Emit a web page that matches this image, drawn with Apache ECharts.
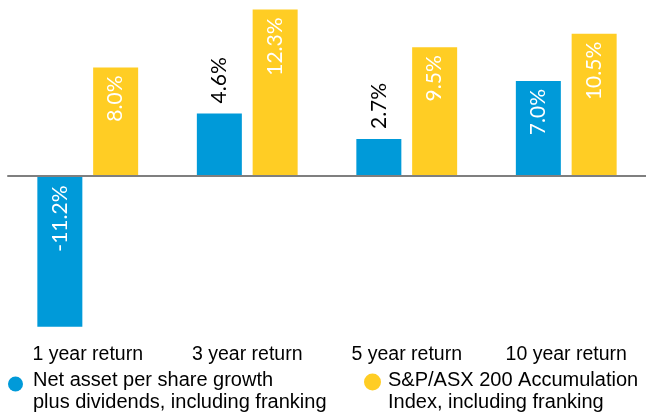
<!DOCTYPE html>
<html>
<head>
<meta charset="utf-8">
<script src="https://cdn.jsdelivr.net/npm/echarts@6/dist/echarts.min.js"></script>
<style>
html,body{margin:0;padding:0;background:#fff;}
#chart{width:646px;height:412px;}
</style>
</head>
<body>
<div id="chart"></div>
<script>
const categories = ['1 year return', '3 year return', '5 year return', '10 year return'];
const navGrowth = [-11.2, 4.6, 2.7, 7.0];
const asxIndex = [8.0, 12.3, 9.5, 10.5];
const seriesNames = [
  'Net asset per share growth\nplus dividends, including franking',
  'S&P/ASX 200 Accumulation\nIndex, including franking'
];

const BLUE = '#009ad9';
const YELLOW = '#ffcd24';
const fmt = p => p.value.toFixed(1) + '%';

const insideLabel = {
  show: true, position: 'insideTop', distance: 8, rotate: 90,
  align: 'right', verticalAlign: 'middle',
  color: '#ffffff', fontFamily: 'Lato', fontSize: 21, formatter: fmt
};
const outsideLabel = {
  show: true, position: 'top', distance: 10, rotate: 90,
  align: 'left', verticalAlign: 'middle',
  color: '#000000', fontFamily: 'Lato', fontSize: 21, formatter: fmt
};

function buildItems(values) {
  return values.map(v => ({
    value: v,
    label: (v > 0 && v < 5) ? outsideLabel : (v < 0 ? Object.assign({}, insideLabel, {distance: 10}) : insideLabel)
  }));
}

function legendFormatter(name) {
  return '{sp| }\n' + name.split('\n').map(s => '{t|' + s + '}').join('\n');
}
function legendText(spacer) {
  return {
    color: '#000', fontFamily: 'Liberation Sans, Arial', fontSize: 20, lineHeight: 22,
    rich: {
      sp: {fontSize: 2, lineHeight: spacer},
      t: {color: '#000', fontFamily: 'Liberation Sans, Arial', fontSize: 20, lineHeight: 22}
    }
  };
}

const chart = echarts.init(document.getElementById('chart'), null, {renderer: 'canvas'});
chart.setOption({
  animation: false,
  grid: {left: 8, right: -3, top: 0, bottom: 74.5, containLabel: false},
  xAxis: [
    {
      type: 'category', data: categories, position: 'bottom', z: 5,
      axisLine: {show: true, onZero: true, lineStyle: {color: '#7f7f7f', width: 2}},
      axisTick: {show: false}, axisLabel: {show: false}, splitLine: {show: false}
    },
    {
      type: 'category', data: categories, position: 'bottom',
      axisLine: {show: false, onZero: false}, axisTick: {show: false},
      axisLabel: {show: true, margin: 7, color: '#000', fontFamily: 'Liberation Sans, Arial', fontSize: 19.5},
      splitLine: {show: false}
    }
  ],
  yAxis: {type: 'value', min: -12, max: 13, show: false, splitLine: {show: false}},
  legend: [
    {
      data: [seriesNames[0]], left: 8, top: 355, padding: 0,
      icon: 'circle', itemWidth: 25, itemHeight: 15,
      formatter: legendFormatter, textStyle: legendText(14)
    },
    {
      data: [seriesNames[1]], left: 364, top: 351, padding: 0,
      icon: 'circle', itemWidth: 21, itemHeight: 17,
      formatter: legendFormatter, textStyle: legendText(18)
    }
  ],
  series: [
    {
      name: seriesNames[0], type: 'bar', xAxisIndex: 0,
      data: buildItems(navGrowth), barWidth: 45, barGap: '24%',
      itemStyle: {color: BLUE}
    },
    {
      name: seriesNames[1], type: 'bar', xAxisIndex: 0,
      data: buildItems(asxIndex), barWidth: 45, barGap: '24%',
      itemStyle: {color: YELLOW}
    }
  ]
});
</script>
</body>
</html>
